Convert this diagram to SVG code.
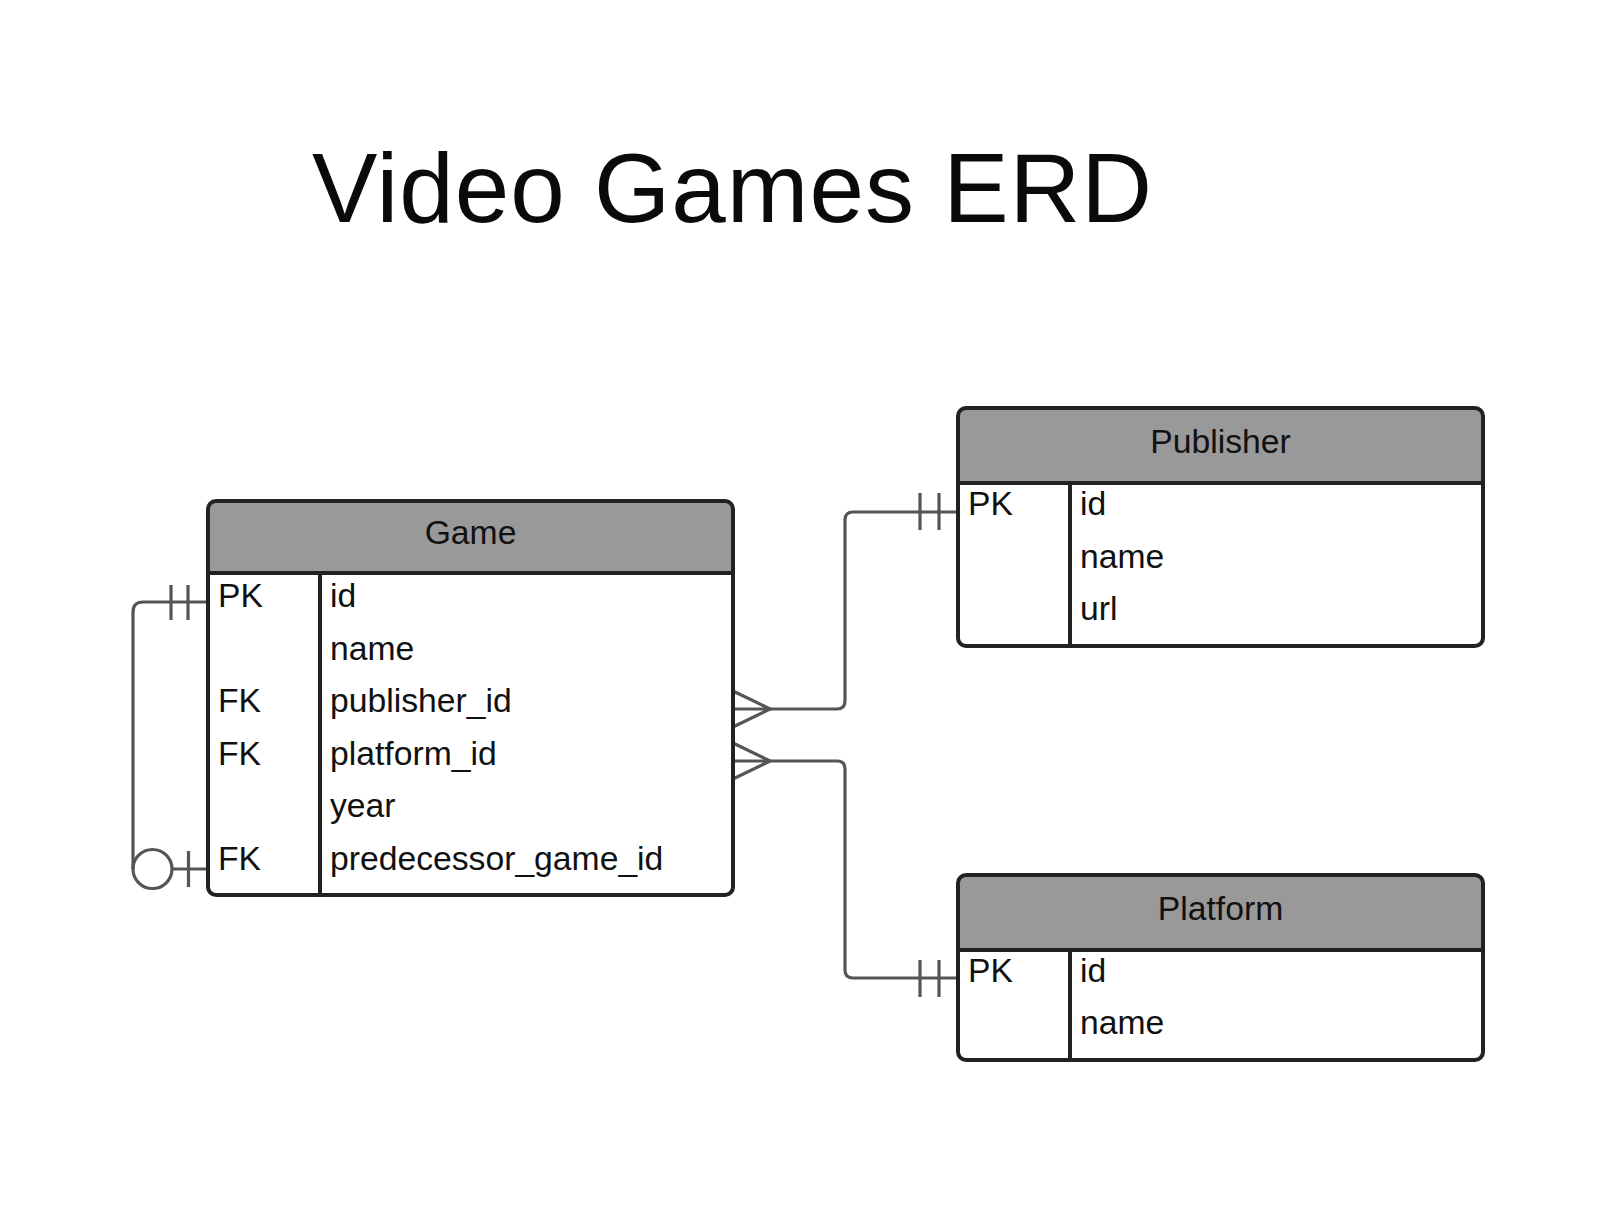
<svg xmlns="http://www.w3.org/2000/svg" width="1620" height="1206" viewBox="0 0 1620 1206">
<style>
.box{fill:none;stroke:#222;stroke-width:4}
.hdr{fill:#999}
.sep{stroke:#222;stroke-width:4;fill:none}
.conn{fill:none;stroke:#555;stroke-width:3.2;stroke-linejoin:round}
.t{font-family:"Liberation Sans",Arial,sans-serif;font-size:33.7px;fill:#111}
.h{font-family:"Liberation Sans",Arial,sans-serif;font-size:33.7px;fill:#111;text-anchor:middle}
.title{font-family:"Liberation Sans",Arial,sans-serif;font-size:98px;fill:#0a0a0a;letter-spacing:1px}
</style>
<rect width="1620" height="1206" fill="#fff"/>
<text class="title" x="312" y="222">Video Games ERD</text>

<g id="connectors">
  <!-- Game self reference -->
  <path class="conn" d="M208,602 H143 Q133,602 133,612 V869"/>
  <line class="conn" x1="171" y1="585" x2="171" y2="620"/>
  <line class="conn" x1="188" y1="585" x2="188" y2="620"/>
  <circle class="conn" cx="152.5" cy="869" r="19.5" fill="#fff"/>
  <line class="conn" x1="172" y1="869" x2="208" y2="869"/>
  <line class="conn" x1="188.5" y1="851" x2="188.5" y2="887"/>
  <!-- Game to Publisher -->
  <path class="conn" d="M733,709 H837 Q845,709 845,701 V520 Q845,512 853,512 H958"/>
  <path class="conn" d="M733,691 L770,709 L733,727"/>
  <line class="conn" x1="920" y1="493" x2="920" y2="530"/>
  <line class="conn" x1="939" y1="493" x2="939" y2="530"/>
  <!-- Game to Platform -->
  <path class="conn" d="M733,761 H837 Q845,761 845,769 V970 Q845,978 853,978 H958"/>
  <path class="conn" d="M733,743 L770,761 L733,779"/>
  <line class="conn" x1="920" y1="960" x2="920" y2="997"/>
  <line class="conn" x1="939" y1="960" x2="939" y2="997"/>
</g>

<g id="game">
  <path class="hdr" d="M208,573 V509 Q208,501 216,501 H725 Q733,501 733,509 V573 Z"/>
  <line class="sep" x1="208" y1="573" x2="733" y2="573"/>
  <line class="sep" x1="320" y1="573" x2="320" y2="895"/>
  <rect class="box" x="208" y="501" width="525" height="394" rx="8"/>
  <text class="h" x="470.5" y="544">Game</text>
  <text class="t" x="218" y="607">PK</text>
  <text class="t" x="330" y="607">id</text>
  <text class="t" x="330" y="659.5">name</text>
  <text class="t" x="218" y="712">FK</text>
  <text class="t" x="330" y="712">publisher_id</text>
  <text class="t" x="218" y="764.5">FK</text>
  <text class="t" x="330" y="764.5">platform_id</text>
  <text class="t" x="330" y="817">year</text>
  <text class="t" x="218" y="869.5">FK</text>
  <text class="t" x="330" y="869.5">predecessor_game_id</text>
</g>

<g id="publisher">
  <path class="hdr" d="M958,483 V416 Q958,408 966,408 H1475 Q1483,408 1483,416 V483 Z"/>
  <line class="sep" x1="958" y1="483" x2="1483" y2="483"/>
  <line class="sep" x1="1070" y1="483" x2="1070" y2="646"/>
  <rect class="box" x="958" y="408" width="525" height="238" rx="8"/>
  <text class="h" x="1220.5" y="452.5">Publisher</text>
  <text class="t" x="968" y="515">PK</text>
  <text class="t" x="1080" y="515">id</text>
  <text class="t" x="1080" y="567.5">name</text>
  <text class="t" x="1080" y="620">url</text>
</g>

<g id="platform">
  <path class="hdr" d="M958,950 V883 Q958,875 966,875 H1475 Q1483,875 1483,883 V950 Z"/>
  <line class="sep" x1="958" y1="950" x2="1483" y2="950"/>
  <line class="sep" x1="1070" y1="950" x2="1070" y2="1060"/>
  <rect class="box" x="958" y="875" width="525" height="185" rx="8"/>
  <text class="h" x="1220.5" y="919.5">Platform</text>
  <text class="t" x="968" y="981.5">PK</text>
  <text class="t" x="1080" y="981.5">id</text>
  <text class="t" x="1080" y="1034">name</text>
</g>
</svg>
